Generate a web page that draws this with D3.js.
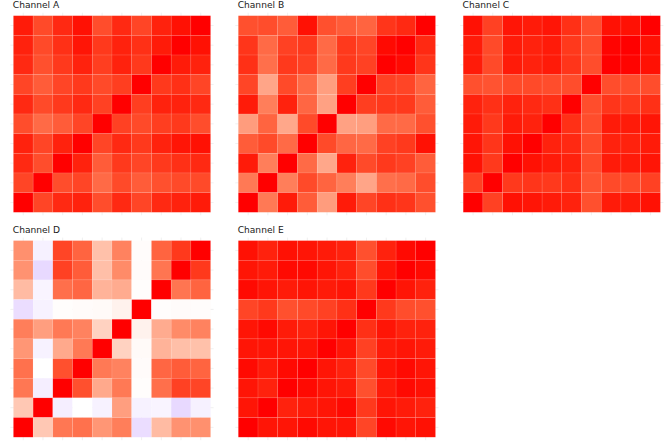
<!DOCTYPE html>
<html>
<head>
<meta charset="utf-8">
<script src="https://cdn.jsdelivr.net/npm/d3@7"></script>
<style>
  html, body { margin: 0; padding: 0; background: #ffffff; }
  svg { display: block; }
</style>
</head>
<body>
<script>
// ---- data ----
const variables = ["V1","V2","V3","V4","V5","V6","V7","V8","V9","V10"];
const channelNames = ["Channel A","Channel B","Channel C","Channel D","Channel E"];

// rows listed top to bottom (top row = V10), columns V1..V10
const channelA = [
  [0.976,0.866,0.952,0.988,0.856,0.952,0.88,0.966,0.988,1],
  [0.966,0.866,0.937,0.983,0.915,0.966,0.937,0.976,1,0.988],
  [0.952,0.845,0.915,0.966,0.903,0.966,0.915,1,0.976,0.966],
  [0.88,0.80,0.88,0.915,0.866,0.903,1,0.915,0.937,0.88],
  [0.952,0.866,0.915,0.952,0.892,1,0.903,0.966,0.966,0.952],
  [0.856,0.745,0.80,0.88,1,0.892,0.866,0.903,0.915,0.856],
  [0.966,0.88,0.966,1,0.88,0.952,0.915,0.966,0.983,0.988],
  [0.952,0.856,1,0.966,0.80,0.915,0.88,0.915,0.937,0.952],
  [0.88,1,0.856,0.88,0.745,0.866,0.80,0.845,0.866,0.866],
  [1,0.88,0.952,0.966,0.856,0.952,0.88,0.952,0.966,0.976]
];
const channelB = [
  [0.845,0.856,0.80,0.988,0.845,0.80,0.77,0.925,0.952,1],
  [0.925,0.745,0.892,0.915,0.745,0.915,0.88,0.993,1,0.952],
  [0.937,0.725,0.915,0.892,0.745,0.915,0.892,1,0.993,0.925],
  [0.88,0.47,0.866,0.745,0.505,0.903,1,0.892,0.88,0.77],
  [0.976,0.66,0.966,0.76,0.49,1,0.903,0.915,0.915,0.80],
  [0.515,0.77,0.46,0.866,1,0.49,0.505,0.745,0.745,0.845],
  [0.80,0.866,0.745,1,0.866,0.76,0.745,0.892,0.915,0.988],
  [0.976,0.66,1,0.745,0.46,0.966,0.866,0.915,0.892,0.80],
  [0.68,1,0.66,0.866,0.77,0.66,0.47,0.725,0.745,0.856],
  [1,0.68,0.976,0.80,0.515,0.976,0.88,0.937,0.925,0.845]
];
const channelC = [
  [0.988,0.892,0.983,0.976,0.983,0.937,0.856,0.988,0.988,1],
  [0.976,0.866,0.976,0.966,0.976,0.915,0.856,0.997,1,0.988],
  [0.976,0.866,0.976,0.966,0.976,0.925,0.856,1,0.997,0.988],
  [0.845,0.835,0.866,0.866,0.856,0.856,1,0.856,0.856,0.856],
  [0.966,0.937,0.966,0.952,0.937,1,0.856,0.925,0.915,0.937],
  [0.976,0.915,0.976,0.966,1,0.937,0.856,0.976,0.976,0.983],
  [0.983,0.925,0.988,1,0.966,0.952,0.866,0.966,0.966,0.976],
  [0.988,0.915,1,0.988,0.976,0.966,0.866,0.976,0.976,0.983],
  [0.892,1,0.915,0.925,0.915,0.937,0.835,0.866,0.866,0.892],
  [1,0.892,0.988,0.983,0.976,0.966,0.845,0.976,0.976,0.988]
];
const channelD = [
  [0.575,-0.06,0.88,0.77,0.33,0.64,0.015,0.77,0.915,1],
  [0.565,-0.16,0.892,0.80,0.34,0.60,0.02,0.70,1,0.915],
  [0.36,-0.045,0.725,0.76,0.40,0.44,0.01,1,0.70,0.77],
  [-0.14,-0.055,0.01,0.02,0.025,0.07,1,0.01,0.02,0.015],
  [0.66,0.505,0.68,0.64,0.24,1,0.07,0.44,0.60,0.64],
  [0.545,-0.055,0.45,0.68,1,0.24,0.025,0.40,0.34,0.33],
  [0.715,0.0,0.845,1,0.68,0.64,0.02,0.76,0.80,0.77],
  [0.69,-0.07,1,0.845,0.45,0.68,0.01,0.725,0.892,0.88],
  [0.29,1,-0.07,0.0,-0.055,0.505,-0.055,-0.045,-0.16,-0.06],
  [1,0.29,0.69,0.715,0.545,0.66,-0.14,0.36,0.565,0.575]
];
const channelE = [
  [0.988,0.966,0.988,0.983,0.976,0.966,0.845,0.966,0.993,1],
  [0.983,0.976,0.993,0.993,0.983,0.966,0.856,0.983,1,0.993],
  [0.993,0.983,0.976,0.983,0.976,0.983,0.915,1,0.983,0.966],
  [0.88,0.915,0.845,0.866,0.892,0.937,1,0.915,0.856,0.845],
  [0.983,0.993,0.976,0.966,0.983,1,0.937,0.983,0.966,0.966],
  [0.983,0.983,0.983,0.983,1,0.983,0.892,0.976,0.983,0.976],
  [0.993,0.976,0.993,1,0.983,0.966,0.866,0.983,0.993,0.983],
  [0.983,0.966,1,0.993,0.983,0.976,0.845,0.976,0.993,0.988],
  [0.983,1,0.966,0.976,0.983,0.993,0.915,0.983,0.976,0.966],
  [1,0.983,0.983,0.993,0.983,0.983,0.88,0.993,0.983,0.988]
];
const matrices = [channelA, channelB, channelC, channelD, channelE];

// ---- layout ----
const W = 670, H = 441;
const panelX = [13.4, 238.3, 463.2];
const panelY = [15.7, 240.6];
const PW = 197.2, PH = 196.6;

const color = d3.scaleLinear()
  .domain([-1, 0, 1])
  .range(["blue", "white", "red"])
  .interpolate(d3.interpolateLab)
  .clamp(true);

const svg = d3.select("body").append("svg")
  .attr("width", W).attr("height", H);

matrices.forEach((mat, k) => {
  const px = panelX[k % 3];
  const py = panelY[Math.floor(k / 3)];
  const x = d3.scaleBand().domain(variables).range([px, px + PW]);
  const y = d3.scaleBand().domain(variables.slice().reverse()).range([py, py + PH]);
  const g = svg.append("g");

  // faint grid lines (theme_minimal style), extending slightly past tiles
  const ext = 3;
  g.selectAll("line.gx").data(variables).join("line")
    .attr("x1", d => x(d) + x.bandwidth() / 2).attr("x2", d => x(d) + x.bandwidth() / 2)
    .attr("y1", py - ext).attr("y2", py + PH + ext)
    .attr("stroke", "#e6e6e6").attr("stroke-width", 0.6);
  g.selectAll("line.gy").data(variables).join("line")
    .attr("y1", d => y(d) + y.bandwidth() / 2).attr("y2", d => y(d) + y.bandwidth() / 2)
    .attr("x1", px - ext).attr("x2", px + PW + ext)
    .attr("stroke", "#e6e6e6").attr("stroke-width", 0.6);

  const cells = [];
  mat.forEach((row, r) => row.forEach((v, c) => {
    cells.push({ xv: variables[c], yv: variables[variables.length - 1 - r], v });
  }));

  g.selectAll("rect.cell").data(cells).join("rect")
    .attr("class", "cell")
    .attr("x", d => x(d.xv)).attr("y", d => y(d.yv))
    .attr("width", x.bandwidth()).attr("height", y.bandwidth())
    .attr("fill", d => color(d.v))
    .attr("stroke", "white").attr("stroke-opacity", 0.2).attr("stroke-width", 0.5);

  g.append("text")
    .attr("x", px - 0.6).attr("y", py - 7.7)
    .attr("font-family", "DejaVu Sans, sans-serif")
    .attr("font-size", 9.1)
    .attr("fill", "#1a1a1a")
    .text(channelNames[k]);
});
</script>
</body>
</html>
